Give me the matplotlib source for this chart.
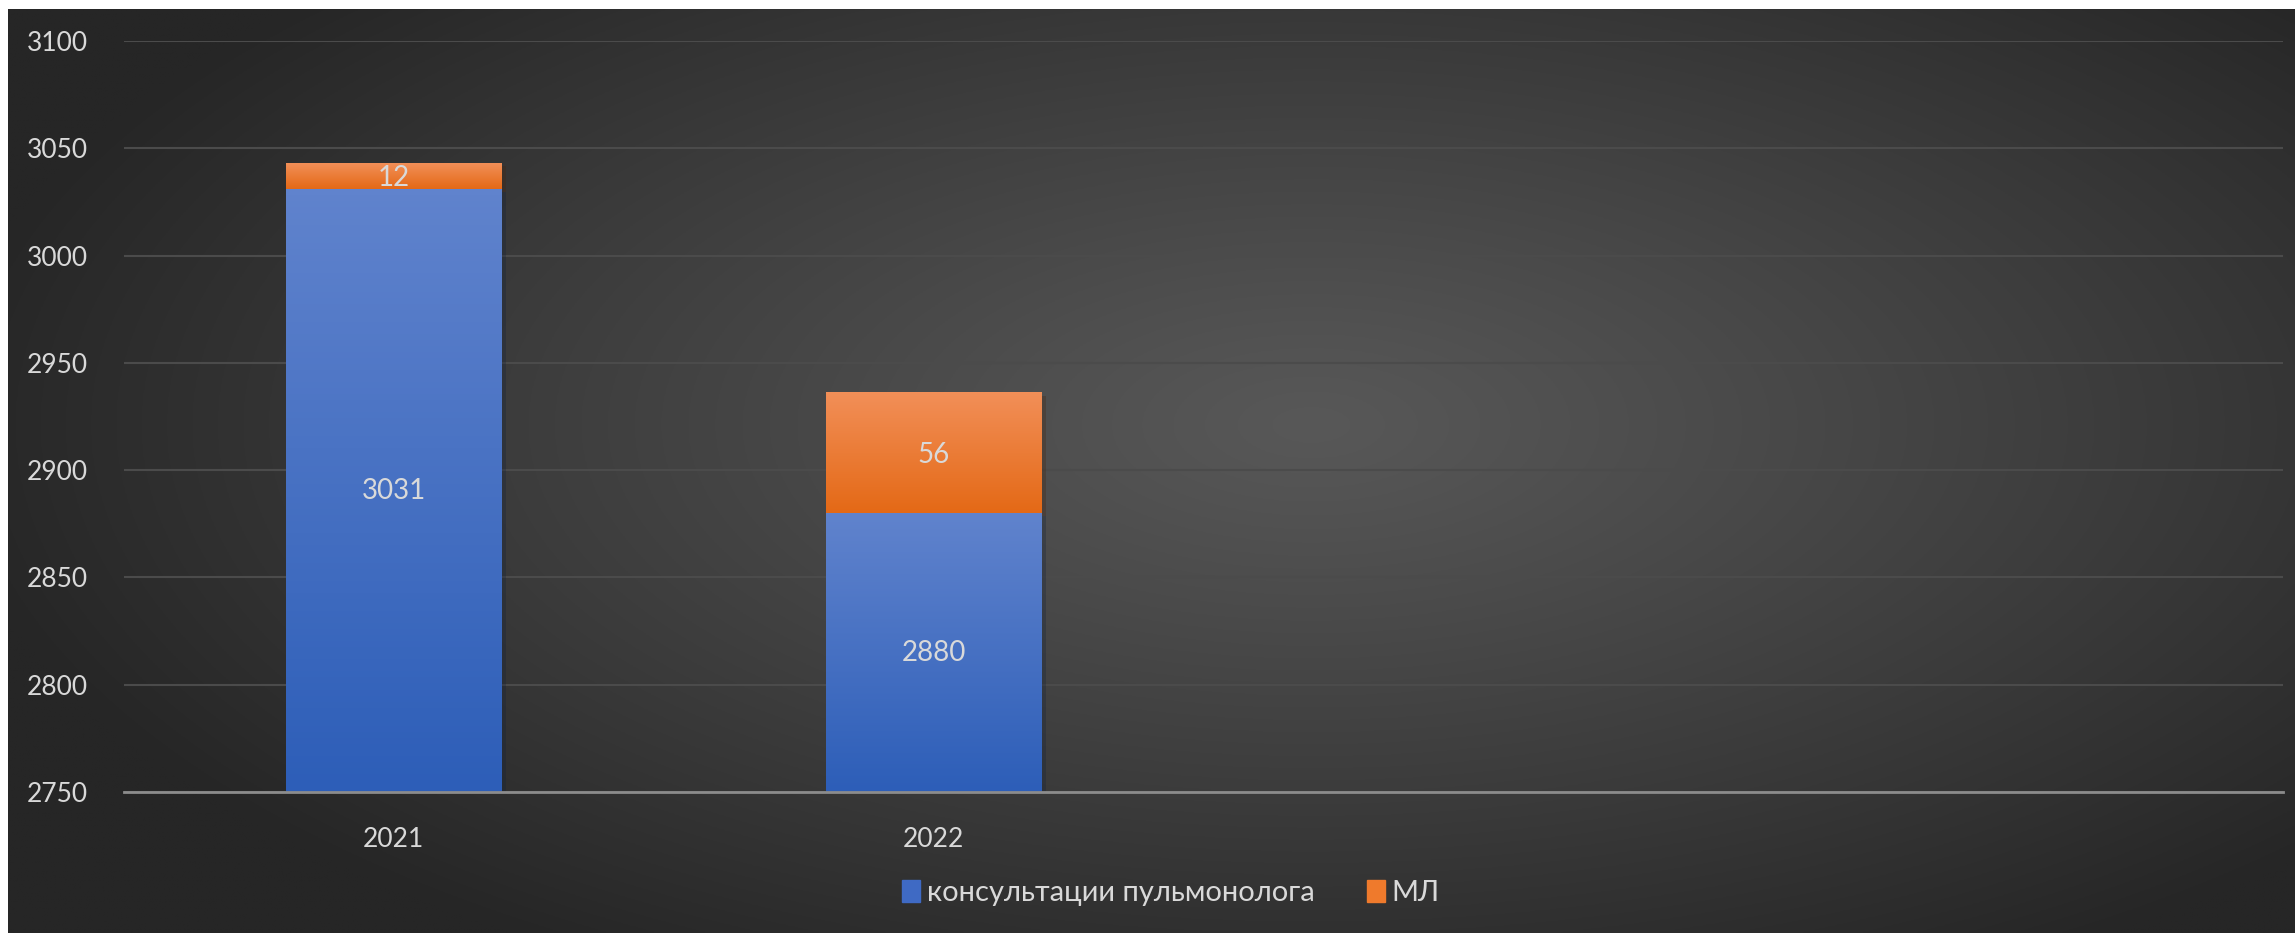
import numpy as np
import matplotlib.pyplot as plt
from matplotlib import patheffects as pe
from matplotlib.patches import Patch

# data
years = ["2021", "2022", "", ""]
consult = [3031, 2880, 0, 0]
ml = [12, 56, 0, 0]
series_names = ["консультации пульмонолога", "МЛ"]

plt.rcParams["font.family"] = ["Lato", "Open Sans", "DejaVu Sans"]
text_col = "#d9d9d9"
YMIN, YMAX = 2750, 3100

fig = plt.figure(figsize=(22.95, 9.33), dpi=100)
fig.patch.set_facecolor("white")

# radial gradient background
bg = fig.add_axes([8 / 2295, 0, 1 - 8 / 2295, 1 - 9 / 933])
bg.set_axis_off()
yy, xx = np.mgrid[0:1:400j, 0:1:900j]
r = np.sqrt(((xx - 0.57) / 0.8) ** 2 + ((yy - 0.55) / 0.9) ** 2)
r = np.clip(r / 0.75, 0, 1)
light, dark = 0x58 / 255, 0x26 / 255
g = light + (dark - light) * r ** 1.1
bg.imshow(np.dstack([g, g, g]), extent=[0, 1, 0, 1], aspect="auto", origin="lower")
bg.set_xlim(0, 1)
bg.set_ylim(0, 1)

ax = fig.add_axes([124 / 2295, 1 - 792 / 933, (2283 - 124) / 2295, (792 - 41) / 933])
ax.set_facecolor("none")
x = np.arange(len(years))

shadow = [pe.SimplePatchShadow(offset=(3, -2), alpha=0.3), pe.Normal()]
bars1 = ax.bar(x, consult, width=0.4, bottom=0, color="#4472c4", zorder=2,
               path_effects=shadow)
bars2 = ax.bar(x, ml, width=0.4, bottom=consult, color="#ed7d31", zorder=2,
               path_effects=shadow)
ax.set_ylim(YMIN, YMAX)
ax.set_xlim(-0.5, len(years) - 0.5)


def grad_bar(patch, top, bottom):
    x0, w = patch.get_x(), patch.get_width()
    y0 = max(patch.get_y(), YMIN)
    y1 = patch.get_y() + patch.get_height()
    if y1 <= y0:
        return
    t = np.linspace(0, 1, 100)[:, None]
    top = np.array(top) / 255
    bottom = np.array(bottom) / 255
    img = bottom + (top - bottom) * t
    img = np.repeat(img[:, None, :], 2, axis=1)
    ax.imshow(img, extent=[x0, x0 + w, y0, y1], origin="lower",
              aspect="auto", zorder=3)


for b in bars1:
    grad_bar(b, (96, 131, 205), (45, 94, 184))
for b in bars2:
    grad_bar(b, (242, 143, 88), (228, 105, 22))
ax.set_ylim(YMIN, YMAX)
ax.set_xlim(-0.5, len(years) - 0.5)

for i in range(2):
    ax.text(x[i], (YMIN + consult[i]) / 2, str(consult[i]),
            ha="center", va="center", color=text_col, fontsize=20, zorder=5)
    ax.text(x[i], consult[i] + ml[i] / 2 - 1, str(ml[i]), ha="center", va="center",
            color=text_col, fontsize=20, zorder=5)

ax.set_yticks(np.arange(YMIN, YMAX + 1, 50))
ax.set_xticks(x)
ax.set_xticklabels(years)
ax.tick_params(axis="both", length=0, colors=text_col, labelsize=19)
ax.tick_params(axis="x", pad=25)
ax.tick_params(axis="y", pad=26)
ax.yaxis.grid(True, color="#4b4b4b", linewidth=1.5, zorder=0)
ax.set_axisbelow(True)
for s in ["top", "right", "left"]:
    ax.spines[s].set_visible(False)
ax.spines["bottom"].set_color("#8c8c8c")
ax.spines["bottom"].set_linewidth(2)
ax.spines["bottom"].set_zorder(4)

handles = [Patch(color="#3f6ac4"), Patch(color="#ef7a2c")]
fig.legend(handles=handles, labels=series_names, loc="center",
           bbox_to_anchor=(1171 / 2295, 1 - 893 / 933), ncol=2, frameon=False,
           fontsize=21, labelcolor=text_col, handlelength=0.6, handleheight=0.75,
           handletextpad=0.25, columnspacing=1.8)

fig.savefig("out.png", dpi=100, facecolor=fig.get_facecolor())
